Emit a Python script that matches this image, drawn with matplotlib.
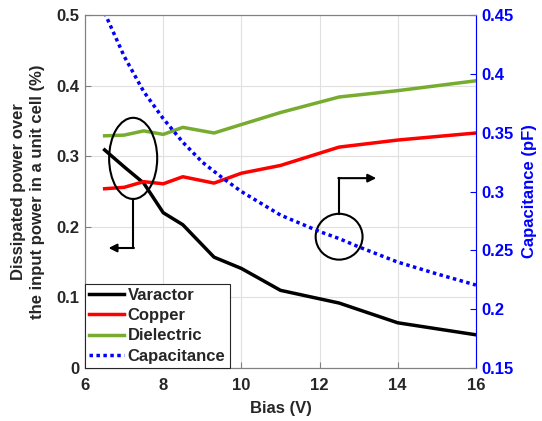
import numpy as np
import matplotlib.pyplot as plt
from matplotlib.patches import Ellipse

plt.rcParams['font.family'] = ['Liberation Sans', 'DejaVu Sans']
plt.rcParams['font.weight'] = 'bold'

# loss data (left axis, %)
bias = [6.5, 7, 7.5, 8, 8.5, 9.3, 10, 11, 12.5, 14, 16]
varactor = [0.309, 0.285, 0.262, 0.220, 0.203, 0.157, 0.141, 0.110, 0.092, 0.064, 0.047]
copper = [0.254, 0.256, 0.264, 0.261, 0.271, 0.262, 0.276, 0.287, 0.313, 0.323, 0.333]
dielectric = [0.329, 0.330, 0.336, 0.331, 0.341, 0.333, 0.345, 0.362, 0.384, 0.393, 0.407]

# varactor capacitance (right axis, pF)
bias_c = [6.5, 7, 7.5, 8, 8.5, 9, 9.5, 10, 11, 12, 12.5, 13, 14, 15, 16]
capacitance = [0.452, 0.415, 0.385, 0.362, 0.342, 0.325, 0.312, 0.300, 0.280,
               0.266, 0.260, 0.253, 0.240, 0.230, 0.2205]

fig = plt.figure(figsize=(5.42, 4.21), dpi=100)
ax = fig.add_axes([0.157, 0.126, 0.721, 0.838])
ax2 = ax.twinx()

lw = 2.5
l1, = ax.plot(bias, varactor, color='black', lw=lw, label='Varactor')
l2, = ax.plot(bias, copper, color='#ff0000', lw=lw, label='Copper')
l3, = ax.plot(bias, dielectric, color='#77ac30', lw=lw, label='Dielectric')
l4, = ax2.plot(bias_c, capacitance, color='#0000ff', lw=lw, ls=(0, (1, 1)),
               label='Capacitance')

ax.set_xlim(6, 16)
ax.set_ylim(0, 0.5)
ax2.set_ylim(0.15, 0.45)
ax.set_xticks([6, 8, 10, 12, 14, 16])
ax.set_yticks([0, 0.1, 0.2, 0.3, 0.4, 0.5])
ax.set_yticklabels(['0', '0.1', '0.2', '0.3', '0.4', '0.5'])
ax2.set_yticks([0.15, 0.2, 0.25, 0.3, 0.35, 0.4, 0.45])
ax2.set_yticklabels(['0.15', '0.2', '0.25', '0.3', '0.35', '0.4', '0.45'])

ax.grid(True, color='#e0e0e0', lw=0.8)
ax.set_axisbelow(True)
for a in (ax, ax2):
    for s in a.spines.values():
        s.set_color('#808080')
        s.set_linewidth(0.8)
ax2.spines['right'].set_color('#0000ff')

fs = 12
ax.tick_params(direction='in', labelsize=fs, color='#808080', length=4)
ax.tick_params(axis='x', pad=7)
ax.tick_params(axis='y', pad=4)
ax2.tick_params(direction='in', labelsize=fs, colors='#0000ff', length=4, pad=4)
for lab in ax.get_xticklabels() + ax.get_yticklabels() + ax2.get_yticklabels():
    lab.set_fontweight('bold')
ax.tick_params(axis='both', labelcolor='#262626')

ax.set_xlabel('Bias (V)', fontsize=fs, fontweight='bold', color='#262626', labelpad=6)
ax.set_ylabel('Dissipated power over\nthe input power in a unit cell (%)',
              fontsize=fs, fontweight='bold', color='#262626', linespacing=1.35,
              labelpad=8)
ax2.set_ylabel('Capacitance (pF)', fontsize=fs, fontweight='bold', color='#0000ff',
               labelpad=6)

# annotation: loss curves -> left axis
ax.add_patch(Ellipse((7.23, 0.297), 1.23, 0.115, fill=False, ec='black', lw=1.5, zorder=5))
ax.plot([7.23, 7.23], [0.240, 0.170], color='black', lw=1.5, zorder=5)
ax.annotate('', xy=(6.6, 0.170), xytext=(7.25, 0.170),
            arrowprops=dict(arrowstyle='-|>', color='black', lw=1.5,
                            mutation_scale=12, shrinkA=0, shrinkB=0), zorder=5)

# annotation: capacitance -> right axis
ax.add_patch(Ellipse((12.5, 0.186), 1.2, 0.065, fill=False, ec='black', lw=1.5, zorder=5))
ax.plot([12.5, 12.5], [0.218, 0.269], color='black', lw=1.5, zorder=5)
ax.annotate('', xy=(13.45, 0.269), xytext=(12.48, 0.269),
            arrowprops=dict(arrowstyle='-|>', color='black', lw=1.5,
                            mutation_scale=12, shrinkA=0, shrinkB=0), zorder=5)

leg = ax2.legend(handles=[l1, l2, l3, l4], loc='lower left',
                 prop={'weight': 'bold', 'size': fs}, handlelength=2.1,
                 handletextpad=0.2, borderpad=0.25, labelspacing=0.32,
                 borderaxespad=0, fancybox=False, framealpha=1)
leg.get_frame().set_edgecolor('#262626')
leg.get_frame().set_linewidth(0.8)
for t in leg.get_texts():
    t.set_color('#262626')

fig.savefig('out.png', dpi=100)
